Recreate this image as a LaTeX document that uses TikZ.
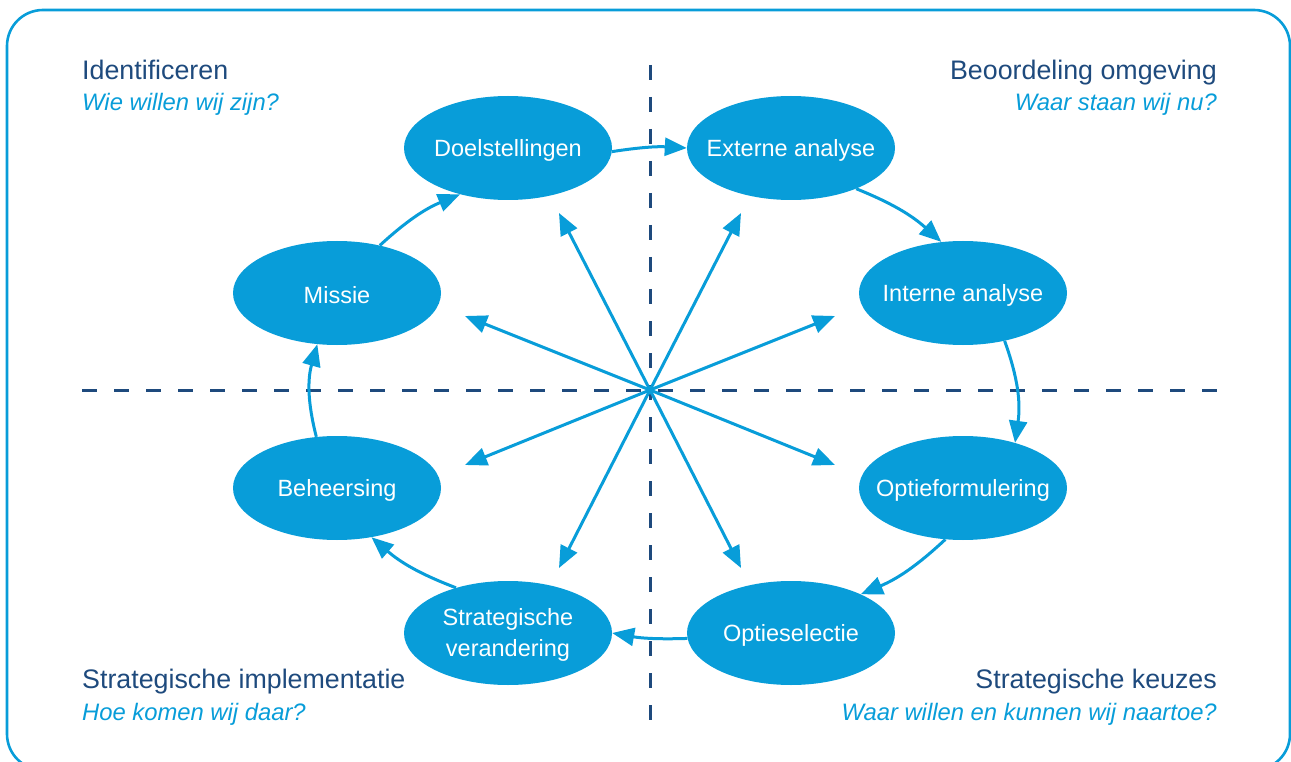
\documentclass[tikz,border=0pt]{standalone}
\usepackage{fontspec}
\setmainfont{Liberation Sans}
\usetikzlibrary{shapes.geometric,arrows.meta}
\definecolor{cblue}{RGB}{8,157,217}
\definecolor{cnavy}{RGB}{30,74,125}
\tikzset{
  blob/.style={ellipse, fill=cblue, minimum width=208pt, minimum height=104pt, inner sep=0pt},
  btxt/.style={text=white, font=\fontsize{23.5}{31}\selectfont, align=center, yshift=-2pt},
  arr/.style={draw=cblue, line width=3pt, -{Triangle[length=22pt,width=18pt]}},
  dashline/.style={draw=cnavy, line width=3pt, dash pattern=on 15pt off 17pt},
  ttl/.style={text=cnavy, font=\fontsize{26.8}{30}\selectfont, inner sep=0pt},
  sub/.style={text=cblue, font=\fontsize{23.8}{28}\selectfont\itshape, inner sep=0pt}
}
\begin{document}
\begin{tikzpicture}[x=1pt,y=-1pt]
\useasboundingbox (0,0) rectangle (1291,762);
\clip (0,0) rectangle (1291,762);
\draw[cblue, line width=2.6pt, rounded corners=36pt] (7,10) rectangle (1290,770);

% dashed axes
\coordinate (hl) at (82,390);
\coordinate (hr) at (1218,390);
\coordinate (vt) at (650,65);
\coordinate (vb) at (650,722);
\draw[dashline] (hl) -- (hr);
\draw[dashline] (vt) -- (vb);

% nodes
\node[blob, label={[btxt]center:Doelstellingen}] (doel) at (508,148) {};
\node[blob, label={[btxt]center:Externe analyse}] (ext) at (791,148) {};
\node[blob, label={[btxt]center:Missie}] (mis) at (337,293) {};
\node[blob, label={[btxt]center:Interne analyse}] (int) at (963,293) {};
\node[blob, label={[btxt]center:Beheersing}] (beh) at (337,488) {};
\node[blob, label={[btxt]center:Optieformulering}] (opf) at (963,488) {};
\node[blob, label={[btxt]center:Strategische\\verandering}] (str) at (508,633) {};
\node[blob, label={[btxt]center:Optieselectie}] (ops) at (791,633) {};

% cycle arrows
\draw[arr] (doel.-2) to[bend left=6] (ext.180);
\draw[arr] (ext.-32) to[bend left=10] (int.113);
\draw[arr] (int.-49) to[bend left=14] (opf.41);
\draw[arr] (opf.251) to[bend left=10] (ops.29);
\draw[arr] (ops.183) to[bend left=6] (str.0);
\draw[arr] (str.139) to[bend left=10] (beh.-55);
\draw[arr] (beh.112) to[bend left=15] (mis.249);
\draw[arr] (mis.48) to[bend left=10] (doel.224);

% spokes
\coordinate (c) at (650,390);
\coordinate (s1) at (559,213);
\coordinate (s2) at (741,213);
\coordinate (s3) at (465,316);
\coordinate (s4) at (835,316);
\coordinate (s5) at (465,465);
\coordinate (s6) at (835,465);
\coordinate (s7) at (559,568);
\coordinate (s8) at (741,568);
\foreach \s in {s1,s2,s3,s4,s5,s6,s7,s8}
  \draw[arr] (c) -- (\s);

% corner texts
\node[ttl, anchor=base west] (t1) at (82,80) {Identificeren};
\node[sub, anchor=base west] (u1) at (82,111) {Wie willen wij zijn?};
\node[ttl, anchor=base east] (t2) at (1217,80) {Beoordeling omgeving};
\node[sub, anchor=base east] (u2) at (1217,111) {Waar staan wij nu?};
\node[ttl, anchor=base west] (t3) at (82,688) {Strategische implementatie};
\node[sub, anchor=base west] (u3) at (82,720) {Hoe komen wij daar?};
\node[ttl, anchor=base east] (t4) at (1217,688) {Strategische keuzes};
\node[sub, anchor=base east] (u4) at (1217,720) {Waar willen en kunnen wij naartoe?};
\end{tikzpicture}
\end{document}
